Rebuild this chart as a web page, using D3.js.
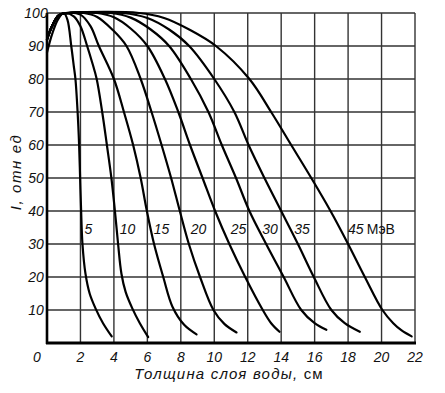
<!DOCTYPE html>
<html>
<head>
<meta charset="utf-8">
<script src="https://cdn.jsdelivr.net/npm/d3@7"></script>
<style>
    body { margin: 0; background: #fff; }
    svg { display: block; font-family: "Liberation Sans", Arial, sans-serif; }
    .tick-label, .curve-label, .axis-title { font-style: italic; fill: #111; }
</style>
</head>
<body>
<svg id="grafic" width="445" height="393"></svg>
<script>
// Date: [grosime strat apa (cm), doza relativa]
const energies = [5, 10, 15, 20, 25, 30, 35, 45];

const curve5 = [[0, 88], [0.3, 93.5], [0.65, 98], [1.0, 100], [1.22, 98], [1.45, 90], [1.6, 84], [1.7, 80], [1.83, 70], [1.92, 60], [1.98, 50], [2.04, 40], [2.12, 30], [2.3, 21], [2.55, 15], [2.9, 10.5], [3.35, 6], [3.87, 2]];
const curve10 = [[0, 92], [0.3, 96], [0.7, 99.3], [1.1, 100], [1.6, 99], [2.0, 96], [2.4, 90], [2.7, 85], [2.97, 80], [3.3, 70], [3.58, 60], [3.85, 50], [4.06, 40], [4.25, 30], [4.45, 21], [4.7, 15.5], [5.1, 10.5], [5.55, 6], [6.05, 1.8]];
const curve15 = [[0, 92], [0.3, 96], [0.7, 99.3], [1.1, 100], [2.0, 99.5], [2.6, 96], [3.1, 90], [4.0, 80], [4.6, 70], [5.15, 60], [5.6, 50], [5.97, 40], [6.4, 30], [6.95, 20], [7.5, 11], [8.2, 5.5], [8.94, 2.6]];
const curve20 = [[0, 92], [0.3, 96], [0.7, 99.3], [1.2, 100], [2.2, 100], [3.0, 98.8], [3.9, 95], [4.75, 90], [5.6, 80], [6.25, 70], [6.85, 60], [7.42, 50], [7.94, 40], [8.48, 30], [9.15, 20], [9.95, 10], [10.6, 5.8], [11.33, 3.2]];
const curve25 = [[0, 92], [0.3, 96], [0.7, 99.3], [1.3, 100], [3.0, 100], [4.0, 98.7], [5.0, 95.3], [6.0, 90], [7.05, 80], [7.85, 70], [8.55, 60], [9.3, 50], [10.05, 40], [10.9, 30], [11.85, 20], [12.9, 10], [13.4, 6], [13.9, 3.4]];
const curve30 = [[0, 92], [0.3, 96], [0.7, 99.3], [1.3, 100], [3.8, 100], [5.0, 98.6], [6.2, 95], [7.3, 90], [8.6, 80], [9.65, 70], [10.45, 60], [11.3, 50], [12.1, 40], [13.1, 30], [14.15, 20], [15.2, 10], [16.0, 6], [16.7, 4]];
const curve35 = [[0, 92], [0.3, 96], [0.7, 99.3], [1.4, 100], [4.5, 100], [6.0, 98.5], [7.3, 95], [8.5, 90], [10.0, 80], [11.2, 70], [12.05, 60], [13.0, 50], [14.0, 40], [15.0, 30], [15.95, 20], [17.0, 10], [17.8, 6], [18.7, 3.4]];
const curve45 = [[0, 92], [0.3, 96], [0.7, 99.3], [1.5, 100], [5.5, 100], [7.0, 98.5], [8.5, 95], [10.1, 90], [12.1, 80], [13.4, 70], [14.6, 60], [15.8, 50], [16.95, 40], [18.0, 30], [19.0, 20], [20.05, 10], [20.7, 6], [21.2, 3.8], [21.8, 2]];

const curves = [curve5, curve10, curve15, curve20, curve25, curve30, curve35, curve45];

const xTicks = [2, 4, 6, 8, 10, 12, 14, 16, 18, 20, 22];
const yTicks = [10, 20, 30, 40, 50, 60, 70, 80, 90, 100];

// Pozitii etichete curbe (in unitati de date)
const labelPos = [2.48, 4.81, 6.85, 9.06, 11.45, 13.33, 15.25, 18.0];
const labelLevel = 34.5;

const svg = d3.select("#grafic");

const xScale = d3.scaleLinear().domain([0, 22]).range([47, 415]);
const yScale = d3.scaleLinear().domain([0, 100]).range([343, 13]);

// Grila
const grid = svg.append("g")
    .attr("stroke", "#333")
    .attr("stroke-width", 1.4);

grid.selectAll(".vgrid")
    .data(xTicks)
    .join("line")
    .attr("x1", d => xScale(d))
    .attr("x2", d => xScale(d))
    .attr("y1", yScale(0))
    .attr("y2", yScale(100));

grid.selectAll(".hgrid")
    .data(yTicks)
    .join("line")
    .attr("x1", xScale(0))
    .attr("x2", xScale(22))
    .attr("y1", d => yScale(d))
    .attr("y2", d => yScale(d));

// Axe (mai groase)
svg.append("line")
    .attr("x1", xScale(0)).attr("x2", xScale(0))
    .attr("y1", yScale(0) + 1).attr("y2", yScale(100))
    .attr("stroke", "#000").attr("stroke-width", 2.6);

svg.append("line")
    .attr("x1", xScale(0) - 1).attr("x2", xScale(22) + 1)
    .attr("y1", yScale(0)).attr("y2", yScale(0))
    .attr("stroke", "#000").attr("stroke-width", 2.8);

// Curbe
const line = d3.line()
    .x(d => xScale(d[0]))
    .y(d => yScale(d[1]))
    .curve(d3.curveCatmullRom.alpha(0.5));

svg.append("g")
    .selectAll("path")
    .data(curves)
    .join("path")
    .attr("fill", "none")
    .attr("stroke", "#000")
    .attr("stroke-width", 2.2)
    .attr("stroke-linecap", "round")
    .attr("d", line);

// Etichete axe
svg.append("g")
    .selectAll("text")
    .data(xTicks)
    .join("text")
    .attr("class", "tick-label")
    .attr("x", d => xScale(d))
    .attr("y", 362)
    .attr("text-anchor", "middle")
    .style("font-size", "14px")
    .text(d => d);

svg.append("text")
    .attr("class", "tick-label")
    .attr("x", xScale(0) - 10)
    .attr("y", 362)
    .attr("text-anchor", "middle")
    .style("font-size", "14px")
    .text("0");

svg.append("g")
    .selectAll("text")
    .data(yTicks)
    .join("text")
    .attr("class", "tick-label")
    .attr("x", 36)
    .attr("y", d => yScale(d) + 5)
    .attr("text-anchor", "middle")
    .style("font-size", "14px")
    .text(d => d);

// Etichete energii
const labels = svg.append("g")
    .selectAll("text")
    .data(energies)
    .join("text")
    .attr("class", "curve-label")
    .attr("x", (d, i) => xScale(labelPos[i]))
    .attr("y", yScale(labelLevel) + 5)
    .attr("text-anchor", (d, i) => i === energies.length - 1 ? "start" : "middle")
    .style("font-size", "14px")
    .text(d => d);

labels.filter((d, i) => i === energies.length - 1)
    .append("tspan")
    .attr("dx", 3)
    .style("font-style", "normal")
    .text("МэВ");

// Titluri axe
const xTitle = svg.append("text")
    .attr("class", "axis-title")
    .attr("x", 229)
    .attr("y", 379)
    .attr("text-anchor", "middle")
    .style("font-size", "15px")
    .style("letter-spacing", "1.2px")
    .text("Толщина слоя воды, ");
xTitle.append("tspan")
    .style("font-style", "normal")
    .text("см");

svg.append("text")
    .attr("class", "axis-title")
    .attr("transform", "translate(21,172) rotate(-90)")
    .attr("text-anchor", "middle")
    .style("font-size", "15px")
    .style("letter-spacing", "1.6px")
    .text("I, отн ед");
</script>
</body>
</html>
